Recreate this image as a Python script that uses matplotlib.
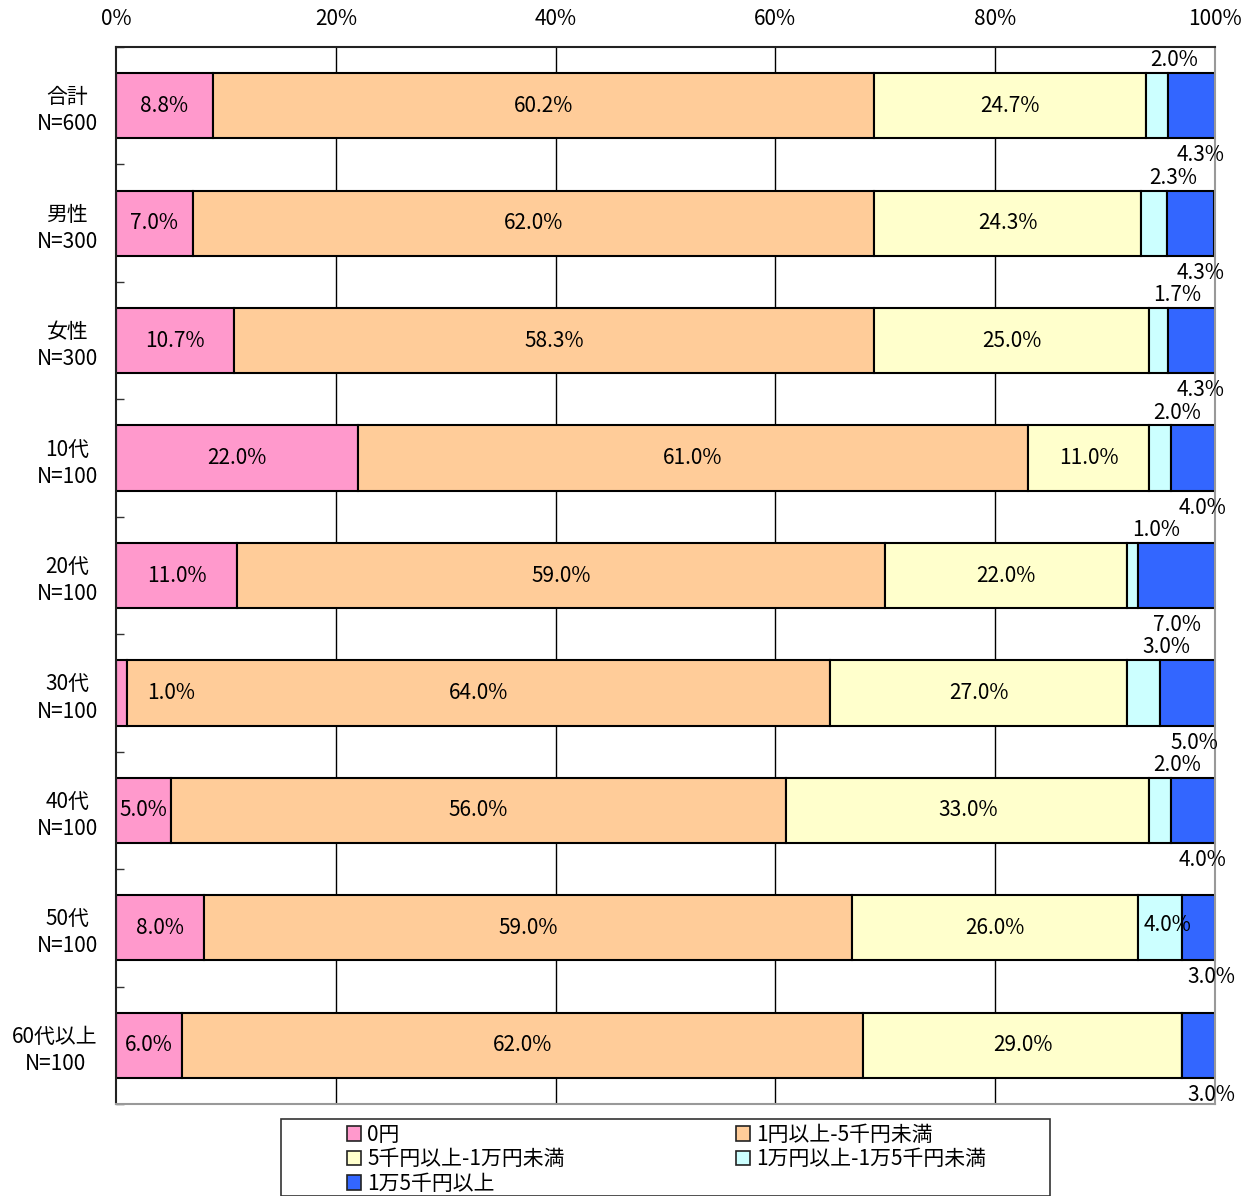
import matplotlib
matplotlib.use("Agg")
import matplotlib.pyplot as plt
from matplotlib.patches import Rectangle, Patch
import numpy as np

plt.rcParams['font.family'] = ['Noto Sans CJK JP', 'DejaVu Sans']

categories = ["合計\nN=600", "男性\nN=300", "女性\nN=300", "10代\nN=100", "20代\nN=100",
              "30代\nN=100", "40代\nN=100", "50代\nN=100", "60代以上\nN=100"]
series_names = ["0円", "1円以上-5千円未満", "5千円以上-1万円未満", "1万円以上-1万5千円未満", "1万5千円以上"]
s0 = [8.8, 7.0, 10.7, 22.0, 11.0, 1.0, 5.0, 8.0, 6.0]
s1 = [60.2, 62.0, 58.3, 61.0, 59.0, 64.0, 56.0, 59.0, 62.0]
s2 = [24.7, 24.3, 25.0, 11.0, 22.0, 27.0, 33.0, 26.0, 29.0]
s3 = [2.0, 2.3, 1.7, 2.0, 1.0, 3.0, 2.0, 4.0, 0.0]
s4 = [4.3, 4.3, 4.3, 4.0, 7.0, 5.0, 4.0, 3.0, 3.0]
xticklabels = ["0%", "20%", "40%", "60%", "80%", "100%"]
colors = ["#FF99CC", "#FFCC99", "#FFFFCC", "#CCFFFF", "#3366FF"]

W, H = 1259, 1196
fig = plt.figure(figsize=(W / 100, H / 100), dpi=100)
ax = fig.add_axes([116 / W, 1 - 1104 / H, (1215 - 116) / W, (1104 - 47) / H])

series = [s0, s1, s2, s3, s4]
n = len(categories)
y = np.arange(n)
bh = 0.555
fs = 15

# gridlines
for gx in [20, 40, 60, 80]:
    ax.axvline(gx, color="black", lw=1.0, zorder=0)

left = np.zeros(n)
for k, (vals, c) in enumerate(zip(series, colors)):
    vals = np.array(vals)
    ax.barh(y, vals, left=left, height=bh, color=c, edgecolor="black", lw=1.5, zorder=2)
    for i in range(n):
        v = vals[i]
        if v <= 0:
            continue
        lab = f"{v:.1f}%"
        cx = left[i] + v / 2
        if k in (0, 1, 2):
            if v < 2:
                cx = left[i] + v + 4.0
            ax.text(cx, y[i], lab, ha="center", va="center", fontsize=fs, zorder=3)
        elif k == 3:
            if v >= 4:
                ax.text(cx + 0.7, y[i] - 0.02, lab, ha="center", va="center", fontsize=fs, zorder=3)
            else:
                ax.text(left[i] + v + 0.6 + max(0.0, 2 - v) * 1.0, y[i] - bh / 2 - 0.11, lab,
                        ha="center", va="center", fontsize=fs, zorder=3)
        else:
            xx = 100 - v / 2 + max(0.0, 7 - v) * 0.3
            ax.text(xx, y[i] + bh / 2 + 0.145, lab, ha="center", va="center", fontsize=fs,
                    zorder=3, clip_on=False)
    left = left + vals

ax.set_xlim(0, 100)
ax.set_ylim(n - 0.5, -0.5)
ax.xaxis.tick_top()
ax.set_xticks([0, 20, 40, 60, 80, 100])
ax.set_xticklabels(xticklabels, fontsize=fs)
ax.tick_params(axis="x", length=0, pad=12)
ax.set_yticks(y)
ax.set_yticklabels(categories, fontsize=fs, ha="right", multialignment="center", linespacing=1.3)
ax.tick_params(axis="y", which="major", length=0, pad=13)
ax.set_yticks(np.arange(n + 1) - 0.5, minor=True)
ax.tick_params(axis="y", which="minor", direction="in", length=6, width=1, color="#333333")

ax.spines["left"].set_color("#222222")
ax.spines["top"].set_color("#222222")
ax.spines["right"].set_color("#999999")
ax.spines["bottom"].set_color("#999999")
for s in ax.spines.values():
    s.set_linewidth(1.5)

# legend box
fig.patches.append(Rectangle((281 / W, 0), (1050 - 281) / W, 1 - 1119 / H,
                             transform=fig.transFigure, fill=False, edgecolor="#333333",
                             lw=1.2, clip_on=False))
order = [0, 2, 4, 1, 3]
handles = [Patch(facecolor=colors[i], edgecolor="#222222", lw=1.2) for i in order]
labels = [series_names[i] for i in order]
fig.legend(handles, labels, ncol=2, loc="upper left",
           bbox_to_anchor=(332 / W, 1 - 1109 / H), frameon=False, fontsize=fs,
           handlelength=0.7, handleheight=0.7, handletextpad=0.3, columnspacing=8.2,
           labelspacing=0.12, borderpad=0.2)

fig.savefig("out.png", dpi=100)
